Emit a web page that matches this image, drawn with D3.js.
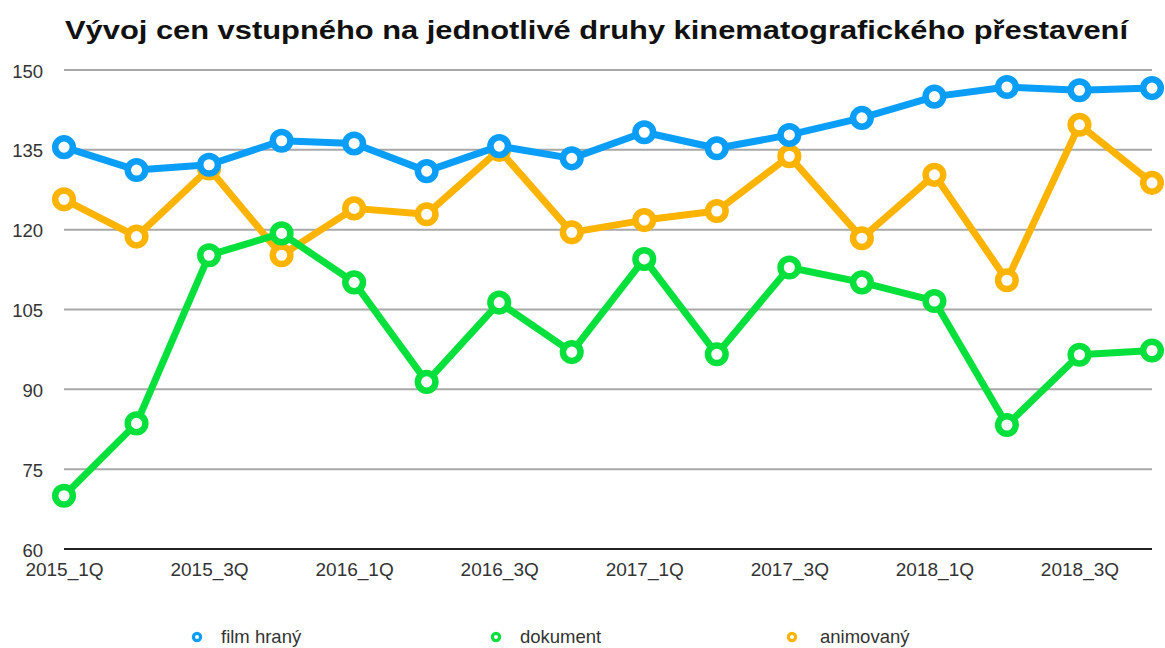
<!DOCTYPE html>
<html>
<head>
<meta charset="utf-8">
<script src="https://cdn.jsdelivr.net/npm/d3@7"></script>
<style>
  html, body { margin: 0; padding: 0; background: #fff; }
  svg { display: block; font-family: "Liberation Sans", Arial, Helvetica, sans-serif; }
</style>
</head>
<body>
<svg id="chart" width="1165" height="648"></svg>
<script>
const categories = ["2015_1Q","2015_2Q","2015_3Q","2015_4Q","2016_1Q","2016_2Q","2016_3Q","2016_4Q",
                    "2017_1Q","2017_2Q","2017_3Q","2017_4Q","2018_1Q","2018_2Q","2018_3Q","2018_4Q"];
const filmHrany = [135.5, 131.2, 132.2, 136.7, 136.2, 131.0, 135.7, 133.4, 138.3, 135.3, 137.8, 141.0, 145.0, 146.8, 146.2, 146.6];
const dokument  = [70.0, 83.6, 115.2, 119.3, 110.1, 91.4, 106.3, 97.0, 114.5, 96.6, 112.9, 110.1, 106.6, 83.3, 96.5, 97.3];
const animovany = [125.7, 118.7, 131.5, 115.2, 124.0, 122.9, 135.0, 119.5, 121.8, 123.5, 133.8, 118.4, 130.3, 110.5, 139.7, 128.8];
const seriesNames = ["film hraný", "dokument", "animovaný"];
const yTicks = [60, 75, 90, 105, 120, 135, 150];
const xTickLabels = ["2015_1Q","2015_3Q","2016_1Q","2016_3Q","2017_1Q","2017_3Q","2018_1Q","2018_3Q"];
const title = "Vývoj cen vstupného na jednotlivé druhy kinematografického přestavení";

const colors = ["#0a9ef8", "#06e03c", "#fdb400"];
const series = [
  { name: seriesNames[0], values: filmHrany, color: colors[0] },
  { name: seriesNames[1], values: dokument,  color: colors[1] },
  { name: seriesNames[2], values: animovany, color: colors[2] }
];

const svg = d3.select("#chart");
const x = d3.scalePoint().domain(categories).range([64, 1152]);
const y = d3.scaleLinear().domain([60, 150]).range([549, 70]);

// title
svg.append("text")
  .attr("x", 65).attr("y", 39)
  .attr("font-size", 25).attr("font-weight", "bold").attr("fill", "#111")
  .attr("textLength", 1063).attr("lengthAdjust", "spacingAndGlyphs")
  .text(title);

// gridlines
svg.append("g").selectAll("line")
  .data(yTicks.filter(d => d !== 60))
  .join("line")
  .attr("x1", 64).attr("x2", 1152)
  .attr("y1", d => y(d)).attr("y2", d => y(d))
  .attr("stroke", "#a8a8a8").attr("stroke-width", 2);

// baseline
svg.append("line")
  .attr("x1", 64).attr("x2", 1152)
  .attr("y1", y(60)).attr("y2", y(60))
  .attr("stroke", "#222").attr("stroke-width", 2);

// y axis labels
const yAxis = d3.axisLeft(y).tickValues(yTicks).tickSize(0).tickPadding(0);
const gy = svg.append("g").attr("transform", "translate(43,0)").call(yAxis);
gy.select(".domain").remove();
gy.selectAll("text").attr("font-size", 18.5).attr("fill", "#333")
  .attr("font-family", "\"Liberation Sans\", Arial, Helvetica, sans-serif")
  .attr("dy", "0.38em");

// x axis labels
const xAxis = d3.axisBottom(x).tickValues(xTickLabels).tickSize(0).tickPadding(0);
const gx = svg.append("g").attr("transform", "translate(0,562)").call(xAxis);
gx.select(".domain").remove();
gx.selectAll("text").attr("font-size", 19).attr("fill", "#333")
  .attr("font-family", "\"Liberation Sans\", Arial, Helvetica, sans-serif")
  .attr("dy", "0.72em");

// lines & markers (draw in reverse so first series is on top)
const line = d3.line().x((d, i) => x(categories[i])).y(d => y(d));
series.slice().reverse().forEach(s => {
  const g = svg.append("g");
  g.append("path").datum(s.values)
    .attr("d", line).attr("fill", "none")
    .attr("stroke", s.color).attr("stroke-width", 7)
    .attr("stroke-linejoin", "round");
  g.selectAll("circle").data(s.values).join("circle")
    .attr("cx", (d, i) => x(categories[i])).attr("cy", d => y(d))
    .attr("r", 8.8).attr("fill", "#fff")
    .attr("stroke", s.color).attr("stroke-width", 6.5);
});

// legend
const legendX = [197, 496, 792];
const lg = svg.append("g");
series.forEach((s, i) => {
  lg.append("circle").attr("cx", legendX[i]).attr("cy", 637)
    .attr("r", 3.6).attr("fill", "#fff").attr("stroke", s.color).attr("stroke-width", 3.2);
  lg.append("text").attr("x", legendX[i] + (i === 2 ? 28 : 24)).attr("y", 637)
    .attr("dy", "0.35em").attr("font-size", 18.5).attr("fill", "#333")
    .text(s.name);
});
</script>
</body>
</html>
